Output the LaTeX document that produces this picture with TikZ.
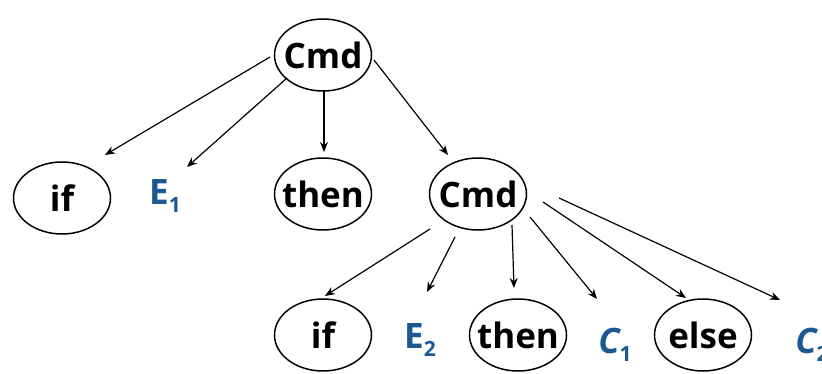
\documentclass[tikz,border=0pt]{standalone}
\usepackage{fontspec}
\setmainfont{Open Sans}
\usetikzlibrary{arrows.meta,shapes.geometric}
\definecolor{termblue}{RGB}{28,88,146}
\newcommand{\lowidx}[1]{\raisebox{-8pt}{\fontsize{21}{21}\selectfont\upshape #1}}
\newcommand{\ntword}[1]{\makebox[0pt]{#1}}
\tikzset{
  tree/.style={x=1pt,y=-1pt},
  nt/.style={draw,ellipse,line width=1.5pt,minimum width=97pt,minimum height=72pt,
    inner sep=0pt,font=\fontsize{35}{35}\selectfont\bfseries},
  tm/.style={inner sep=0pt,text=termblue,font=\fontsize{35}{35}\selectfont\bfseries},
  edge/.style={line width=1.2pt,-{Stealth[length=10pt,width=8pt]}}
}
\begin{document}
\begin{tikzpicture}[tree]
\useasboundingbox (0,0) rectangle (822,374);
% top level
\node[nt] (cmd) at (323,55) {\ntword{Cmd}};
\node[nt] (if1) at (62,198) {\ntword{if}};
\node[tm] (e1) at (165,196) {E\lowidx{1}};
\node[nt] (then1) at (323,194) {\ntword{then}};
\node[nt] (cmd2) at (478,194) {\ntword{Cmd}};
% second level
\node[nt] (if2) at (323,335) {\ntword{if}};
\node[tm] (e2) at (420,340) {E\lowidx{2}};
\node[nt] (then2) at (518,335) {\ntword{then}};
\node[tm] (c1) at (615,345) {\itshape C\lowidx{1}};
\node[nt] (else) at (703,335) {\ntword{else}};
\node[tm] (c2) at (812,345) {\itshape C\lowidx{2}};
% edges
\draw[edge] ([shift={(-53,2)}]cmd.center) -- ([shift={(43,-43)}]if1.center);
\draw[edge] ([shift={(-36,23)}]cmd.center) -- ([shift={(22,-29)}]e1.center);
\draw[edge] ([shift={(1,36)}]cmd.center) -- ([shift={(1,-42)}]then1.center);
\draw[edge] ([shift={(51,5)}]cmd.center) -- ([shift={(-30,-39)}]cmd2.center);
\draw[edge] ([shift={(-48,35)}]cmd2.center) -- ([shift={(2,-39)}]if2.center);
\draw[edge] ([shift={(-23,43)}]cmd2.center) -- ([shift={(7,-48)}]e2.center);
\draw[edge] ([shift={(34,31)}]cmd2.center) -- ([shift={(-4,-47)}]then2.center);
\draw[edge] ([shift={(52,23)}]cmd2.center) -- ([shift={(-18,-46)}]c1.center);
\draw[edge] ([shift={(65,8)}]cmd2.center) -- ([shift={(-17,-37)}]else.center);
\draw[edge] ([shift={(81,4)}]cmd2.center) -- ([shift={(-32,-45)}]c2.center);
\end{tikzpicture}
\end{document}
